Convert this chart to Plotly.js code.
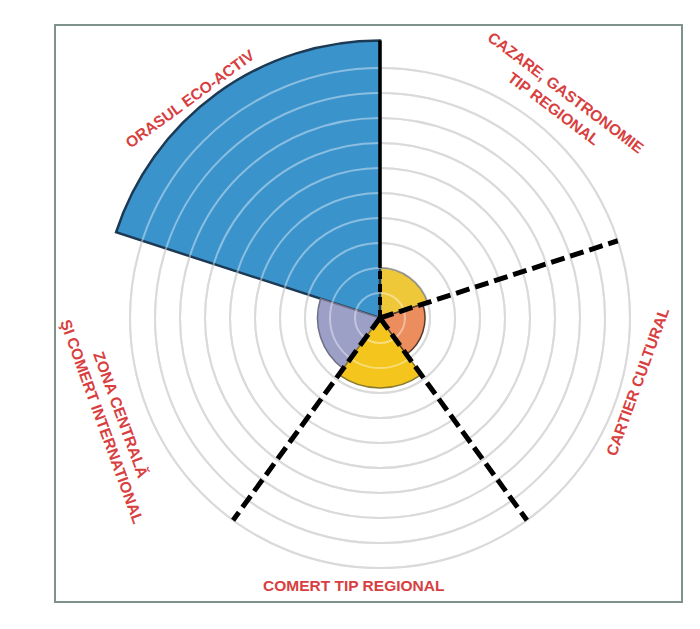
<!DOCTYPE html>
<html>
<head>
<meta charset="utf-8">
<script src="https://cdn.plot.ly/plotly-3.0.1.min.js"></script>
<style>html,body{margin:0;padding:0;background:#fff;}#chart{width:700px;height:629px;}</style>
</head>
<body>
<div id="chart"></div>
<script>
// Sectors, counter-clockwise starting from the first boundary
const categories = ["CAZARE, GASTRONOMIE TIP REGIONAL", "ORASUL ECO-ACTIV", "ZONA CENTRALĂ ŞI COMERT INTERNATIONAL", "COMERT TIP REGIONAL", "CARTIER CULTURAL"];
const values = [2.0, 11.1, 2.5, 2.8, 1.8];
const sectorColors = ["#efc83a", "#3b93cc", "#9c9fc6", "#f4c51c", "#ec8d5e"];
const outlineColors = ["#4a4a3a", "#1d3a55", "#6f6f86", "#8a7a30", "#5a3a2a"];
const gridValues = [1, 2, 3, 4, 5, 6, 7, 8, 9, 10];
const sectorLabels = ["CAZARE, GASTRONOMIE<br>TIP REGIONAL", "ORASUL ECO-ACTIV", "ZONA CENTRALĂ<br>ŞI COMERT INTERNATIONAL", "COMERT TIP REGIONAL", "CARTIER CULTURAL"];

const startAngle = 18;
const step = 360 / categories.length;
const thetaCenters = categories.map((_, i) => startAngle + step * (i + 0.5));
const boundaries = categories.map((_, i) => startAngle + step * i);
const gridMax = gridValues[gridValues.length - 1];

const traces = [{
  type: "barpolar",
  r: values,
  theta: thetaCenters,
  width: categories.map(() => step),
  text: categories,
  hoverinfo: "text+r",
  marker: { color: sectorColors, line: { color: outlineColors, width: [1.5, 2.5, 1.5, 1.5, 1.5] } },
  subplot: "polar"
}];

// divider lines (drawn on overlay subplot)
boundaries.forEach((b, i) => {
  if (i === 0 || i === 3 || i === 4) {
    traces.push({
      type: "scatterpolar", mode: "lines", subplot: "polar2",
      r: [0, gridMax], theta: [b, b],
      line: { color: "#000", width: 5, dash: "14px,6px" }, hoverinfo: "skip", showlegend: false
    });
  }
});
// vertical boundary (edge of the eco sector)
traces.push({
  type: "scatterpolar", mode: "lines", subplot: "polar2",
  r: [values[0], values[1]], theta: [boundaries[1], boundaries[1]],
  line: { color: "#000", width: 3.5 }, hoverinfo: "skip", showlegend: false
});
traces.push({
  type: "scatterpolar", mode: "lines", subplot: "polar2",
  r: [0, values[0]], theta: [boundaries[1], boundaries[1]],
  line: { color: "#000", width: 4, dash: "8px,5px" }, hoverinfo: "skip", showlegend: false
});

const domain = { x: [100 / 700, 660 / 700], y: [1 - 598 / 629, 1 - 38 / 629] };
const rRange = [0, 11.2];

function polarCfg(gridColor, bg) {
  return {
    domain: domain,
    bgcolor: bg,
    radialaxis: {
      range: rRange, tickvals: gridValues, showticklabels: false, ticks: "",
      showline: false, gridcolor: gridColor, gridwidth: 2
    },
    angularaxis: {
      rotation: 0, direction: "counterclockwise", showline: false,
      showgrid: false, showticklabels: false, ticks: ""
    }
  };
}

const red = "#d8403f";
const font = (s) => ({ family: "Liberation Sans, Arial, sans-serif", size: s, color: red, weight: "bold" });
const px = (x) => x / 700, py = (y) => 1 - y / 629;

const layout = {
  width: 700, height: 629,
  margin: { l: 0, r: 0, t: 0, b: 0 },
  paper_bgcolor: "#fff",
  showlegend: false,
  polar: polarCfg("#c2c2c2", "#fff"),
  polar2: polarCfg("rgba(255,255,255,0.4)", "rgba(0,0,0,0)"),
  shapes: [{
    type: "rect", xref: "paper", yref: "paper",
    x0: px(55), x1: px(682), y0: py(602), y1: py(25),
    line: { color: "#7e918d", width: 2 }
  }],
  annotations: [
    { text: sectorLabels[1], x: px(190), y: py(98), textangle: -36 },
    { text: sectorLabels[0], x: px(560), y: py(100), textangle: 37 },
    { text: sectorLabels[4], x: px(638), y: py(382), textangle: -70 },
    { text: sectorLabels[3], x: px(354), y: py(585), textangle: 0 },
    { text: sectorLabels[2], x: px(112), y: py(418), textangle: 70 }
  ].map(a => Object.assign({
    xref: "paper", yref: "paper", showarrow: false,
    xanchor: "center", yanchor: "middle", font: font(15.5), align: "center"
  }, a))
};

Plotly.newPlot("chart", traces, layout, { displayModeBar: false, staticPlot: true });
</script>
</body>
</html>
